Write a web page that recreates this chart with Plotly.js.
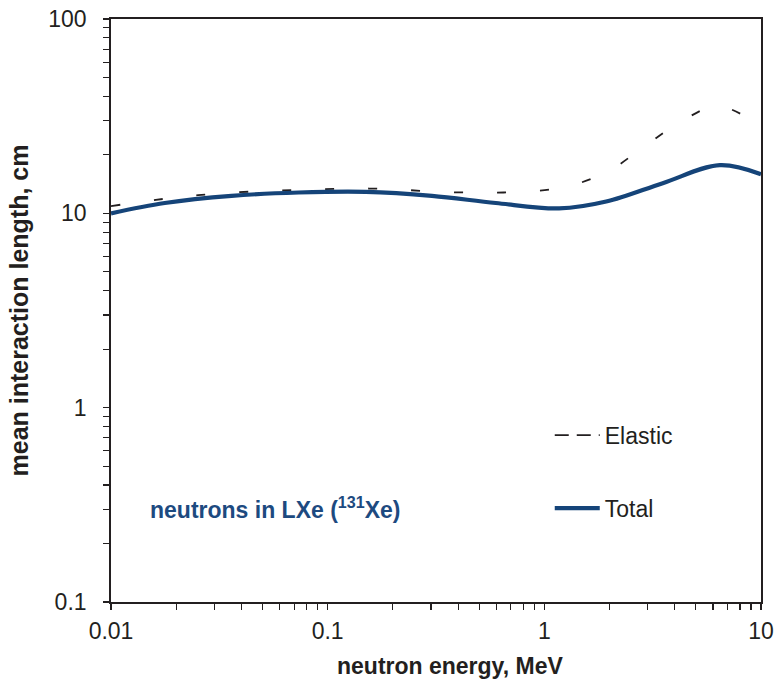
<!DOCTYPE html>
<html>
<head>
<meta charset="utf-8">
<script src="https://cdn.plot.ly/plotly-3.0.1.min.js"></script>
<style>
  html, body { margin: 0; padding: 0; background: #fff; }
  #chart { width: 774px; height: 687px; }
</style>
</head>
<body>
<div id="chart"></div>
<script>
// Mean interaction length of neutrons in liquid xenon (131Xe), cm, vs energy in MeV
const totalEnergy = [0.01, 0.0177, 0.036, 0.0734, 0.15, 0.303, 0.597, 1.17, 1.93, 3.52, 6.46, 10];
const totalLength = [10.0, 11.3, 12.3, 12.8, 12.9, 12.3, 11.3, 10.6, 11.5, 14.3, 17.7, 15.9];

const elasticEnergy = [0.01, 0.019, 0.030, 0.0488, 0.0775, 0.1225, 0.196, 0.31, 0.5, 0.79, 1.26, 1.96, 2.85, 4.22, 6.33, 10];
const elasticLength = [10.9, 12.0, 12.6, 13.0, 13.2, 13.4, 13.35, 12.9, 12.8, 12.9, 13.7, 16.4, 21.8, 29.4, 35.6, 28.0];

// Axis ticks: labels only on decades, unlabelled ticks on every digit in between
const xDecades = [0.01, 0.1, 1];
const xLabels = ['0.01', '0.1', '1', '10'];
const yDecades = [0.1, 1, 10];
const yLabels = ['0.1', '1', '10', '100'];

function logTicks(decades, labels) {
  const vals = [], text = [];
  decades.forEach((d, i) => {
    for (let k = 1; k <= 9; k++) {
      vals.push(+(d * k).toPrecision(3));
      text.push(k === 1 ? labels[i] : '');
    }
  });
  vals.push(decades[decades.length - 1] * 10);
  text.push(labels[labels.length - 1]);
  return { vals, text };
}
const xt = logTicks(xDecades, xLabels);
const yt = logTicks(yDecades, yLabels);

const font = 'Liberation Sans, Arial, sans-serif';
const ink = '#231f20';
const navy = '#154479';

const traces = [
  {
    x: elasticEnergy, y: elasticLength, name: 'Elastic', showlegend: false,
    mode: 'lines', line: { color: ink, width: 1.8, dash: '9px,34px', shape: 'spline', smoothing: 1 }
  },
  {
    x: totalEnergy, y: totalLength, name: 'Total', showlegend: false,
    mode: 'lines', line: { color: navy, width: 4.2, shape: 'spline', smoothing: 1 }
  },
  // legend keys: the key for Elastic uses a longer dash so two dashes fit in the sample
  {
    x: [null], y: [null], name: 'Elastic', legendgroup: 'a',
    mode: 'lines', line: { color: ink, width: 1.8, dash: '14px,8px' }
  },
  {
    x: [null], y: [null], name: 'Total', legendgroup: 'b',
    mode: 'lines', line: { color: navy, width: 4.2 }
  }
];

const xRange = [-2, 1];
const yRange = [-1, 2];

const layout = {
  width: 774, height: 687,
  margin: { l: 111, r: 13, t: 19, b: 85 },
  paper_bgcolor: '#fff', plot_bgcolor: '#fff',
  font: { family: font, color: ink, size: 23 },
  showlegend: true,
  legend: {
    x: 0.675, y: 0.323, xanchor: 'left', yanchor: 'top',
    traceorder: 'grouped', tracegroupgap: 40,
    font: { family: font, size: 23, color: ink },
    bgcolor: 'rgba(0,0,0,0)', itemwidth: 45
  },
  xaxis: {
    type: 'log', range: xRange,
    tickmode: 'array', tickvals: xt.vals, ticktext: xt.text,
    ticks: 'outside', ticklen: 6, tickwidth: 1.2, tickcolor: ink,
    ticklabelstandoff: 2,
    showline: true, linecolor: ink, linewidth: 1.8, mirror: true,
    showgrid: false, zeroline: false,
    tickfont: { family: font, size: 23, color: ink }
  },
  yaxis: {
    type: 'log', range: yRange,
    tickmode: 'array', tickvals: yt.vals, ticktext: yt.text,
    ticks: 'outside', ticklen: 6, tickwidth: 1.2, tickcolor: ink,
    ticklabelstandoff: 12,
    showline: true, linecolor: ink, linewidth: 1.8, mirror: true,
    showgrid: false, zeroline: false,
    tickfont: { family: font, size: 23, color: ink },
    title: { text: '<b>mean interaction length, cm</b>', font: { family: font, size: 25, color: ink }, standoff: 12 }
  },
  // Companion axes carry the inward half of each tick so that ticks cross the frame
  xaxis2: {
    type: 'log', range: xRange, overlaying: 'x', anchor: 'y', side: 'bottom',
    tickmode: 'array', tickvals: xt.vals, ticktext: xt.vals.map(() => ''),
    ticks: 'inside', ticklen: 6, tickwidth: 1.2, tickcolor: ink,
    showline: false, showgrid: false, zeroline: false, showticklabels: false
  },
  yaxis2: {
    type: 'log', range: yRange, overlaying: 'y', anchor: 'x', side: 'left',
    tickmode: 'array', tickvals: yt.vals, ticktext: yt.vals.map(() => ''),
    ticks: 'inside', ticklen: 6, tickwidth: 1.2, tickcolor: ink,
    showline: false, showgrid: false, zeroline: false, showticklabels: false
  },
  annotations: [
    {
      xref: 'paper', yref: 'paper', x: 0.5215, y: -0.11, xanchor: 'center', yanchor: 'middle',
      text: '<b>neutron energy, MeV</b>', showarrow: false,
      font: { family: font, size: 23, color: ink }
    },
    {
      xref: 'paper', yref: 'paper', x: 0.057, y: 0.161, xanchor: 'left', yanchor: 'middle',
      text: '<b>neutrons in LXe (<sup>131</sup>Xe)</b>', showarrow: false,
      font: { family: font, size: 23, color: '#1d4a80' }
    }
  ]
};

Plotly.newPlot('chart', traces, layout, { displayModeBar: false, staticPlot: true });
</script>
</body>
</html>
